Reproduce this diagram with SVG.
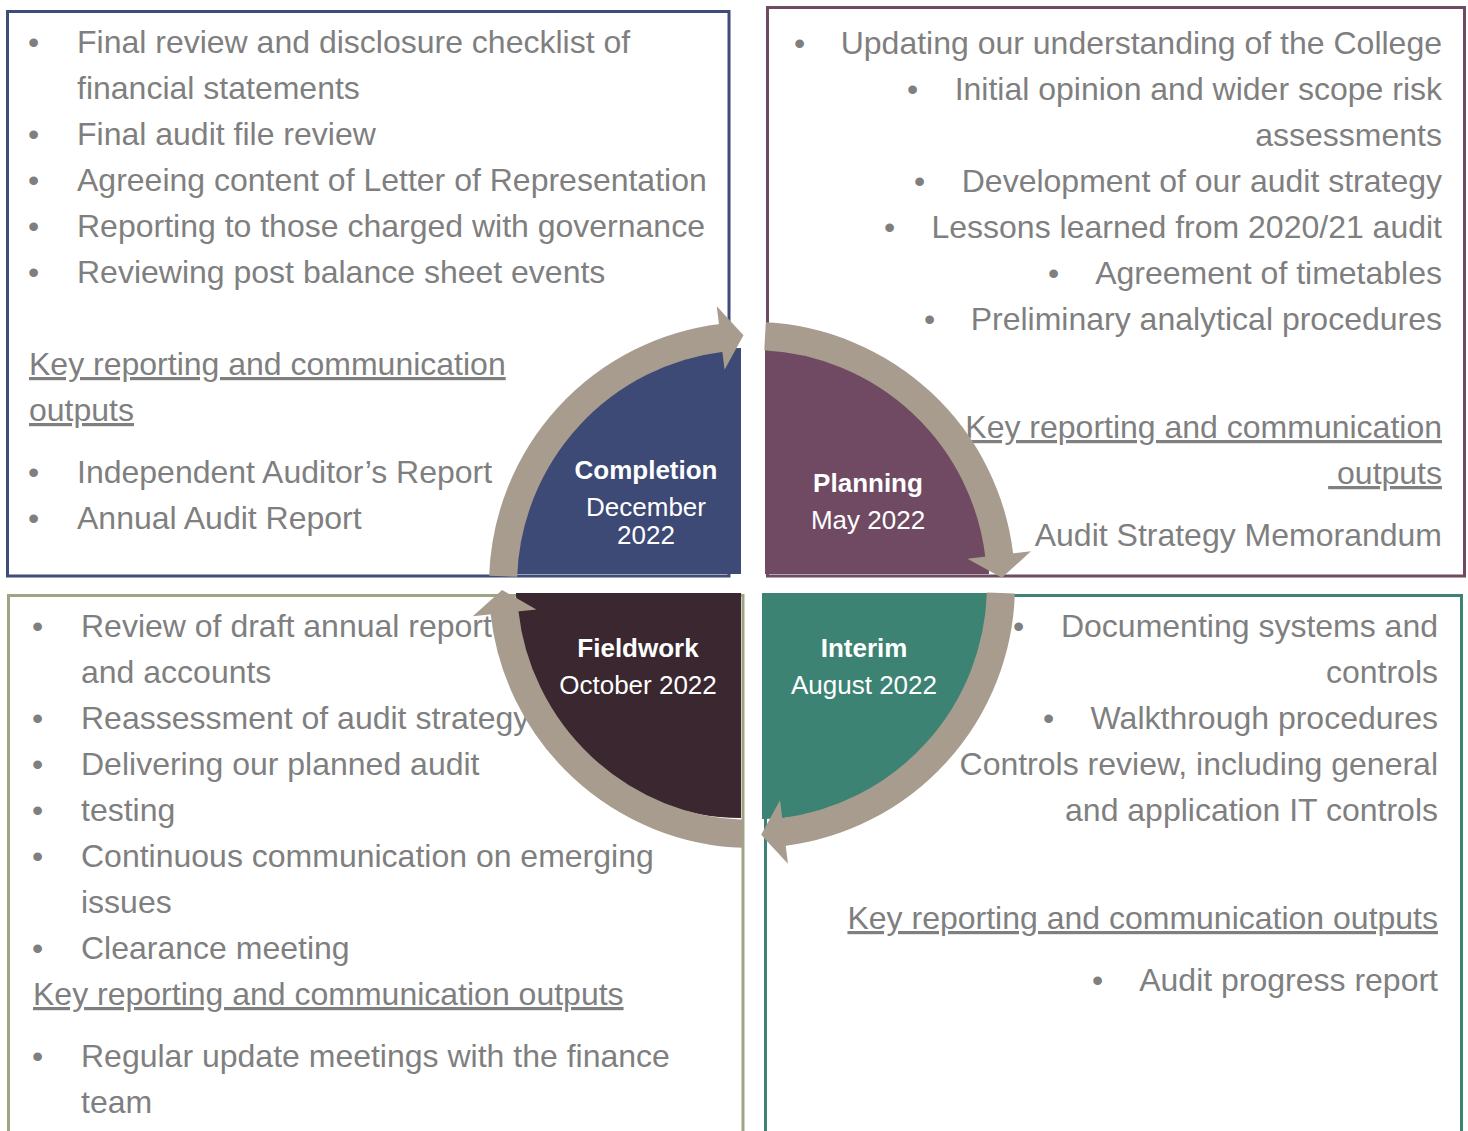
<svg xmlns="http://www.w3.org/2000/svg" width="1468" height="1131" viewBox="0 0 1468 1131">
<style>
  .t { font-family: "Liberation Sans", Arial, sans-serif; font-size: 32px; fill: #7f7f7f; }
  .r { text-anchor: end; }
  .u { text-decoration: underline; }
  .lb { font-family: "Liberation Sans", Arial, sans-serif; font-size: 26px; fill: #ffffff; text-anchor: middle; }
  .b { font-weight: bold; }
  .box { fill: none; stroke-width: 3; }
  .arc { fill: none; stroke: #a89c8e; stroke-width: 28; stroke-linecap: butt; marker-end: url(#ah); }
</style>
<defs>
  <marker id="ah" markerUnits="userSpaceOnUse" orient="auto" refX="0" refY="0" markerWidth="80" markerHeight="80" overflow="visible">
    <path d="M-1,-32 L22,0 L-1,32 Z" fill="#a89c8e"/>
  </marker>
</defs>
<rect width="1468" height="1131" fill="#ffffff"/>

<g id="completion-box">
  <rect class="box" x="7.5" y="11.5" width="721.5" height="564.5" stroke="#3f4b78"/>
  <text class="t" x="28" y="53">•</text><text class="t" x="77" y="53">Final review and disclosure checklist of</text>
  <text class="t" x="77" y="99">financial statements</text>
  <text class="t" x="28" y="145">•</text><text class="t" x="77" y="145">Final audit file review</text>
  <text class="t" x="28" y="191">•</text><text class="t" x="77" y="191">Agreeing content of Letter of Representation</text>
  <text class="t" x="28" y="237">•</text><text class="t" x="77" y="237">Reporting to those charged with governance</text>
  <text class="t" x="28" y="283">•</text><text class="t" x="77" y="283">Reviewing post balance sheet events</text>
  <text class="t u" x="29" y="375">Key reporting and communication</text>
  <text class="t u" x="29" y="421">outputs</text>
  <text class="t" x="28" y="483">•</text><text class="t" x="77" y="483">Independent Auditor’s Report</text>
  <text class="t" x="28" y="529">•</text><text class="t" x="77" y="529">Annual Audit Report</text>
</g>

<g id="planning-box">
  <rect class="box" x="767.5" y="7.5" width="697" height="568.5" stroke="#6f4a63"/>
  <text class="t" x="794" y="54">•</text><text class="t r" x="1442" y="54">Updating our understanding of the College</text>
  <text class="t" x="907" y="100">•</text><text class="t r" x="1442" y="100">Initial opinion and wider scope risk</text>
  <text class="t r" x="1442" y="146">assessments</text>
  <text class="t" x="914" y="192">•</text><text class="t r" x="1442" y="192">Development of our audit strategy</text>
  <text class="t" x="884" y="238">•</text><text class="t r" x="1442" y="238">Lessons learned from 2020/21 audit</text>
  <text class="t" x="1048" y="284">•</text><text class="t r" x="1442" y="284">Agreement of timetables</text>
  <text class="t" x="924" y="330">•</text><text class="t r" x="1442" y="330">Preliminary analytical procedures</text>
  <text class="t r u" x="1442" y="438">Key reporting and communication</text>
  <text class="t r u" x="1442" y="484" style="white-space:pre"> outputs</text>
  <text class="t r" x="1442" y="546">Audit Strategy Memorandum</text>
</g>

<g id="fieldwork-box">
  <rect class="box" x="8.5" y="595.5" width="734.5" height="545" stroke="#9ea582"/>
  <text class="t" x="32" y="637">•</text><text class="t" x="81" y="637">Review of draft annual report</text>
  <text class="t" x="81" y="683">and accounts</text>
  <text class="t" x="32" y="729">•</text><text class="t" x="81" y="729">Reassessment of audit strategy</text>
  <text class="t" x="32" y="775">•</text><text class="t" x="81" y="775">Delivering our planned audit</text>
  <text class="t" x="32" y="821">•</text><text class="t" x="81" y="821">testing</text>
  <text class="t" x="32" y="867">•</text><text class="t" x="81" y="867">Continuous communication on emerging</text>
  <text class="t" x="81" y="913">issues</text>
  <text class="t" x="32" y="959">•</text><text class="t" x="81" y="959">Clearance meeting</text>
  <text class="t u" x="33" y="1005">Key reporting and communication outputs</text>
  <text class="t" x="32" y="1067">•</text><text class="t" x="81" y="1067">Regular update meetings with the finance</text>
  <text class="t" x="81" y="1113">team</text>
</g>

<g id="interim-box">
  <rect class="box" x="765.5" y="595.5" width="696" height="545" stroke="#3c8374"/>
  <text class="t" x="1013" y="637">•</text><text class="t r" x="1438" y="637">Documenting systems and</text>
  <text class="t r" x="1438" y="683">controls</text>
  <text class="t" x="1043" y="729">•</text><text class="t r" x="1438" y="729">Walkthrough procedures</text>
  <text class="t r" x="1438" y="775">Controls review, including general</text>
  <text class="t r" x="1438" y="821">and application IT controls</text>
  <text class="t r u" x="1438" y="929">Key reporting and communication outputs</text>
  <text class="t" x="1092" y="991">•</text><text class="t r" x="1438" y="991">Audit progress report</text>
</g>

<g id="completion">
  <path d="M741,574 H515 A226,226 0 0 1 741,348 Z" fill="#3d4a75"/>
  <text class="lb b" x="646" y="479">Completion</text>
  <text class="lb" x="646" y="516">December</text>
  <text class="lb" x="646" y="544">2022</text>
</g>
<g id="planning">
  <path d="M765,574 V350 A224,224 0 0 1 989,574 Z" fill="#704a63"/>
  <text class="lb b" x="868" y="492">Planning</text>
  <text class="lb" x="868" y="529">May 2022</text>
</g>
<g id="fieldwork">
  <path d="M741,593 V818 A225,225 0 0 1 516,593 Z" fill="#3a2730"/>
  <text class="lb b" x="638" y="657">Fieldwork</text>
  <text class="lb" x="638" y="694">October 2022</text>
</g>
<g id="interim">
  <path d="M762,593 H988 A226,226 0 0 1 762,819 Z" fill="#3c8374"/>
  <text class="lb b" x="864" y="657">Interim</text>
  <text class="lb" x="864" y="694">August 2022</text>
</g>

<g id="connectors">
  <path class="arc" d="M503.15,576.3 A249,249 0 0 1 721.65,337.86"/>
  <path class="arc" d="M765.03,336.34 A249,249 0 0 1 999.30,555.95"/>
  <path class="arc" d="M1000.87,593 A249,249 0 0 1 783,832.06"/>
  <path class="arc" d="M743,833.84 A249,249 0 0 1 504.46,611.89"/>
</g>
</svg>
